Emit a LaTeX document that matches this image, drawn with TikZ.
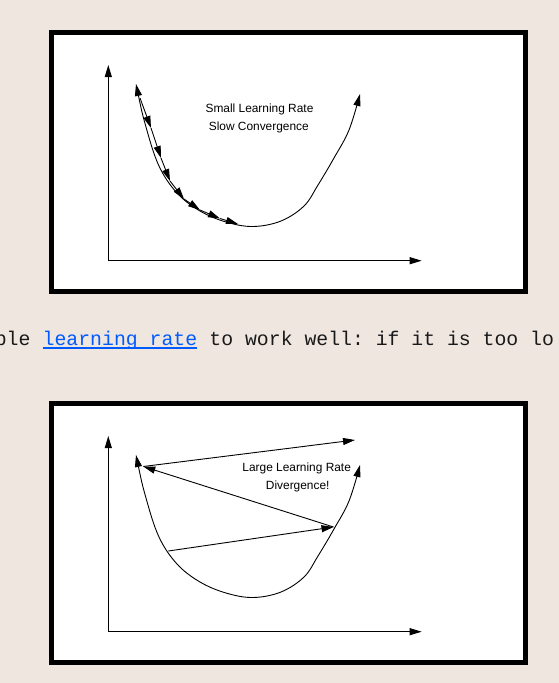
\documentclass[tikz,border=0pt]{standalone}
\usepackage{fontspec}
\setmainfont{Liberation Sans}
\setmonofont{Liberation Mono}
\usetikzlibrary{arrows.meta}
\definecolor{nen}{RGB}{239,230,224}
\definecolor{lienket}{RGB}{0,90,255}

\begin{document}
\begin{tikzpicture}
[x=1pt,y=-1pt,
 muiten/.style={-{Triangle[length=12pt,width=7pt]}},
 haimui/.style={{Triangle[length=12pt,width=7pt]}-{Triangle[length=12pt,width=7pt]}},
 khungve/.style={draw=black,line width=5pt,fill=white},
 duong/.style={line width=0.9pt},
 nhan/.style={font=\fontsize{11.9}{14}\selectfont,inner sep=0pt,anchor=base},
 chu/.style={anchor=base west,inner sep=0pt,text=black!90,font=\ttfamily\fontsize{19.8}{24}\selectfont}] % tùy chọn
\fill[nen] (0,0) rectangle (559,683);
\useasboundingbox (0,0) rectangle (559,683);
\foreach \dy in {0,371}{ % hai khung
\begin{scope}[shift={(0,\dy)}]
\draw[khungve] (51.5,32.5) rectangle (525.5,291.5); % khung
\coordinate (goc) at (108.3,260.7);
\coordinate (dinhY) at (108.3,65);
\coordinate (dinhX) at (421.7,260.7);
\draw[duong,muiten] (goc) -- (dinhY); % trục
\draw[duong,muiten] (goc) -- (dinhX);
\draw[duong,haimui] plot[smooth,tension=0.6] coordinates {(136,84) (146,127) (159,166) (177,193) (200,211) (226,222) (253,226.5) (281,221) (304,206) (318,185) (334,158) (349,130) (360,94)}; % đường cong
\end{scope}
}
\coordinate (b0) at (140,98);
\coordinate (b1) at (151,128);
\coordinate (b2) at (161,158);
\coordinate (b3) at (170,181);
\coordinate (b4) at (184,199);
\coordinate (b5) at (200,210);
\coordinate (b6) at (220,218.5);
\coordinate (b7) at (238,224);
\foreach \a/\b in {b0/b1,b1/b2,b2/b3,b3/b4,b4/b5,b5/b6,b6/b7}
  \draw[duong,muiten] (\a) -- (\b); % bước nhỏ
\node[nhan] (nhanNho) at (259.5,112.3) {Small Learning Rate};
\node[nhan] (nhanCham) at (258.8,130) {Slow Convergence};
\coordinate (c0) at (168.3,551);
\coordinate (c1) at (333.5,527);
\coordinate (c2) at (143.3,466.5);
\coordinate (c3) at (355,440);
\foreach \a/\b in {c0/c1,c1/c2,c2/c3}
  \draw[duong,muiten] (\a) -- (\b); % bước lớn
\node[nhan] (nhanLon) at (296.7,471.7) {Large Learning Rate};
\node[nhan] (nhanPhanKy) at (297.7,489) {Divergence!};
% dòng chữ giữa
\node[chu] (chuTruoc) at (-5.4,345) {ble};
\node[chu,text=lienket] (chuLink) at ([xshift=11.88pt]chuTruoc.base east) {learning rate};
\node[chu] (chuSau) at ([xshift=11.88pt]chuLink.base east) {to work well: if it is too lo};
\draw[lienket,line width=2pt] ([yshift=-3.3pt]chuLink.base west) -- ([yshift=-3.3pt]chuLink.base east);
\end{tikzpicture}
\end{document}
